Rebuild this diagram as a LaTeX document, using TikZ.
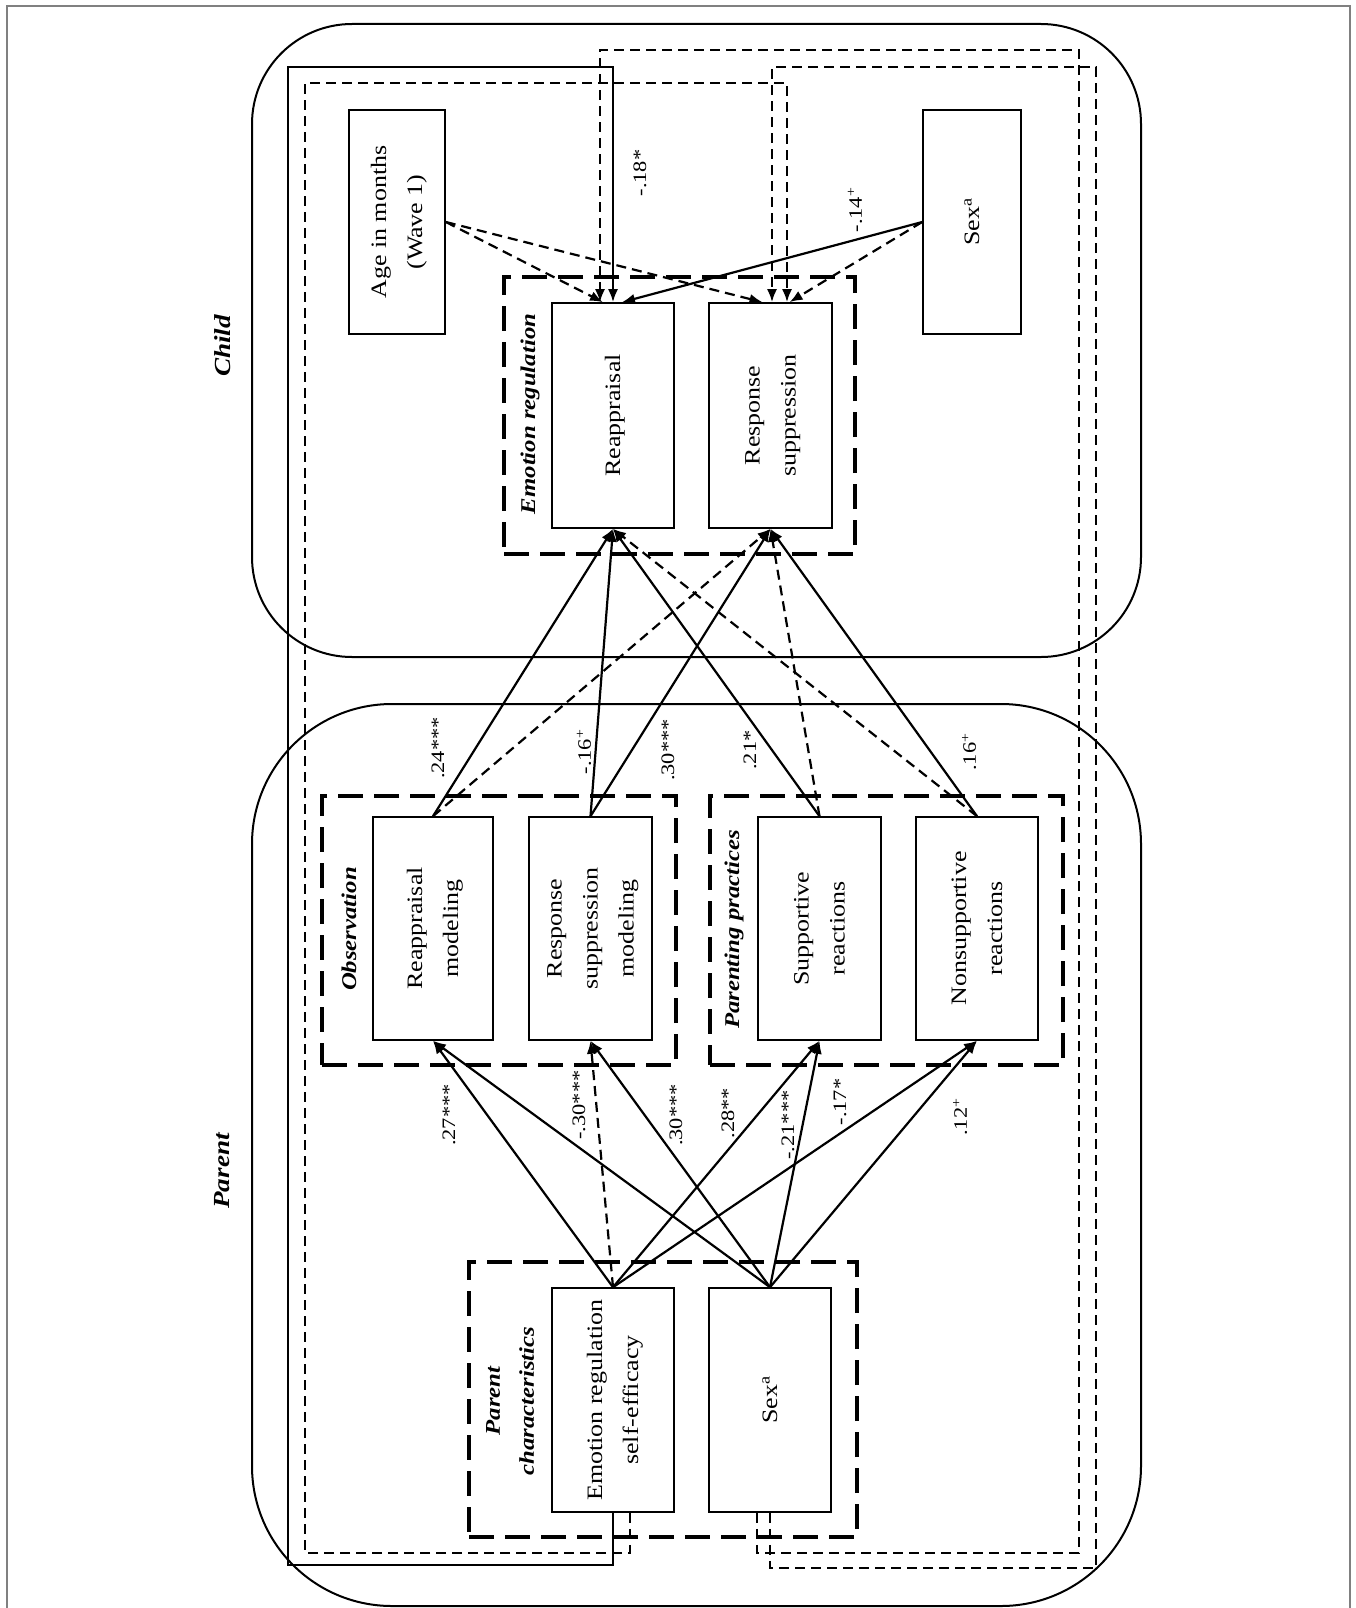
\documentclass[tikz,border=0pt]{standalone}
\usepackage{fontspec}
\setmainfont{Liberation Serif}[FakeStretch=1.18]
\usepackage{graphicx}
\usetikzlibrary{arrows.meta}
\newcommand\boxfont{\fontsize{22}{36}\selectfont}
\newcommand\grpfont{\fontsize{21}{34}\selectfont\bfseries\itshape}
\newcommand\sidefont{\fontsize{23}{28}\selectfont\bfseries\itshape}
\newcommand\coeffont{\fontsize{19}{23}\selectfont}
\newcommand\vt[1]{\rotatebox{90}{\begin{tabular}{@{}c@{}}#1\end{tabular}}}
\tikzset{
  panel/.style={draw, line width=2pt, inner sep=0pt},
  varbox/.style={draw, line width=1.6pt, inner sep=0pt, font=\boxfont},
  grp/.style={draw, line width=4pt, dash pattern=on 25pt off 11pt, inner sep=0pt},
  grplabel/.style={font=\grpfont, rotate=90, inner sep=0pt, align=center},
  sidelabel/.style={font=\sidefont, rotate=90, inner sep=0pt},
  coef/.style={font=\coeffont, rotate=90, inner sep=0pt},
  pathS/.style={line width=2.2pt, -{Latex[length=13pt,width=10pt]}},
  pathD/.style={line width=2.2pt, dash pattern=on 10pt off 6pt, -{Latex[length=13pt,width=10pt]}},
}
\begin{document}
\begin{tikzpicture}[x=1pt,y=-1pt]
\useasboundingbox (0,0) rectangle (1356,1608);
\fill[white] (0,0) rectangle (1356,1608);
\draw[gray, line width=1.2pt] (7,6) rectangle (1350,1640);

% panels
\node[panel, rounded corners=100pt, minimum width=889pt, minimum height=633pt] (childpanel) at (696.5,340.5) {};
\node[panel, rounded corners=140pt, minimum width=889pt, minimum height=902pt] (parentpanel) at (696.5,1155) {};
\node[sidelabel] (childlbl) at (223,346) {Child};
\node[sidelabel] (parentlbl) at (222,1171) {Parent};

% groups
\node[grp, minimum width=351pt, minimum height=277pt] (ergroup) at (679.5,415.5) {};
\node[grp, minimum width=354pt, minimum height=269pt] (obsgroup) at (499,930.5) {};
\node[grp, minimum width=353pt, minimum height=269pt] (ppgroup) at (886.5,930.5) {};
\node[grp, minimum width=388pt, minimum height=275pt] (pcgroup) at (663,1399.5) {};
\node[grplabel] (erlbl) at (530,414) {Emotion regulation};
\node[grplabel] (obslbl) at (349,929) {Observation};
\node[grplabel] (pplbl) at (734,929.5) {Parenting practices};
\node[grplabel] (pclbl) at (510,1401) {Parent\\characteristics};

% variables
\node[varbox, minimum width=96pt, minimum height=224pt] (age) at (397,222) {\vt{Age in months\\(Wave 1)}};
\node[varbox, minimum width=98pt, minimum height=224pt] (csex) at (972,222) {\vt{Sex\textsuperscript{a}}};
\node[varbox, minimum width=122pt, minimum height=225pt] (reap) at (613,415.5) {\vt{Reappraisal}};
\node[varbox, minimum width=123pt, minimum height=225pt] (rs) at (770.5,415.5) {\vt{Response\\suppression}};
\node[varbox, minimum width=120pt, minimum height=223pt] (rm) at (433,928.5) {\vt{Reappraisal\\modeling}};
\node[varbox, minimum width=123pt, minimum height=223pt] (rsm) at (590.5,928.5) {\vt{Response\\suppression\\modeling}};
\node[varbox, minimum width=123pt, minimum height=223pt] (supp) at (819.5,928.5) {\vt{Supportive\\reactions}};
\node[varbox, minimum width=122pt, minimum height=223pt] (nonsupp) at (977,928.5) {\vt{Nonsupportive\\reactions}};
\node[varbox, minimum width=122pt, minimum height=224pt] (erse) at (613,1400) {\vt{Emotion regulation\\self-efficacy}};
\node[varbox, minimum width=122pt, minimum height=224pt] (psex) at (770,1400) {\vt{Sex\textsuperscript{a}}};

% covariate loops
\draw[pathS] (erse.south) -- ++(0,52) -| (288,67) -| (reap.north);
\draw[pathD] ([xshift=17pt]erse.south) -- ++(0,40) -| (305,83) -| ([xshift=16.5pt]rs.north);
\draw[pathD] ([xshift=-13pt]psex.south) -- ++(0,40) -| (1079,50) -| ([xshift=-13pt]reap.north);
\draw[pathD] (psex.south) -- ++(0,55) -| (1096,67) -| ([xshift=1.5pt]rs.north);

% child covariates
\draw[pathD] (age.east) -- ([xshift=-10pt]reap.north);
\draw[pathD] (age.east) -- ([xshift=-8pt]rs.north);
\draw[pathS] (csex.west) -- ([xshift=9pt]reap.north);
\draw[pathD] (csex.west) -- ([xshift=19pt]rs.north);

% parenting to child ER
\draw[pathS] (rm.north) -- (reap.south);
\draw[pathD] (rm.north) -- (rs.south);
\draw[pathS] (rsm.north) -- (reap.south);
\draw[pathS] (rsm.north) -- (rs.south);
\draw[pathS] (supp.north) -- (reap.south);
\draw[pathD] (supp.north) -- (rs.south);
\draw[pathD] (nonsupp.north) -- (reap.south);
\draw[pathS] (nonsupp.north) -- (rs.south);

% parent characteristics to parenting
\draw[pathS] (erse.north) -- (rm.south);
\draw[pathD] (erse.north) -- (rsm.south);
\draw[pathS] (erse.north) -- (supp.south);
\draw[pathS] (erse.north) -- (nonsupp.south);
\draw[pathS] (psex.north) -- (rm.south);
\draw[pathS] (psex.north) -- (rsm.south);
\draw[pathS] (psex.north) -- (supp.south);
\draw[pathS] (psex.north) -- (nonsupp.south);

% coefficients
\node[coef] (k18) at (640,173) {-.18*};
\node[coef] (k14) at (855,210) {-.14\textsuperscript{+}};
\node[coef] (k24) at (438,748) {.24***};
\node[coef] (k16a) at (584,752) {-.16\textsuperscript{+}};
\node[coef] (k30a) at (668,750) {.30***};
\node[coef] (k21a) at (750,750) {.21*};
\node[coef] (k16b) at (969,752) {.16\textsuperscript{+}};
\node[coef] (k27) at (449,1115) {.27***};
\node[coef] (k30b) at (579,1105) {-.30***};
\node[coef] (k30c) at (676,1115) {.30***};
\node[coef] (k28) at (728,1113) {.28**};
\node[coef] (k21b) at (788,1125) {-.21***};
\node[coef] (k17) at (840,1102) {-.17*};
\node[coef] (k12) at (960,1117) {.12\textsuperscript{+}};
\end{tikzpicture}
\end{document}
